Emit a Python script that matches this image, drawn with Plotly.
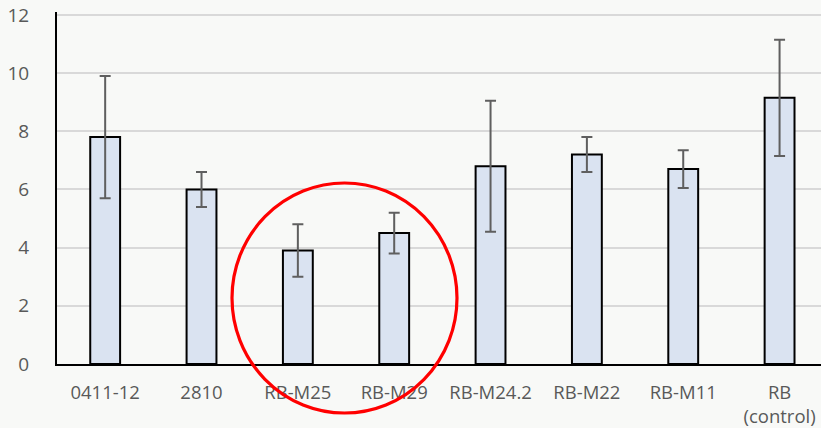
import plotly.graph_objects as go

categories = ["0411-12", "2810", "RB-M25", "RB-M29", "RB-M24.2", "RB-M22", "RB-M11", "RB<br>(control)"]
values = [7.8, 6.0, 3.9, 4.5, 6.8, 7.2, 6.7, 9.15]
errors = [2.1, 0.6, 0.9, 0.7, 2.25, 0.6, 0.65, 2.0]
y_ticks = [0, 2, 4, 6, 8, 10, 12]

BG = "#f8f9f7"

W, H = 821, 428
L, T = 57, 12
PW = W - L
PH = 364 - T
B = H - T - PH

fig = go.Figure()
fig.add_trace(go.Bar(
    x=list(range(len(categories))),
    y=values,
    width=0.31,
    marker=dict(color="#dae3f1", line=dict(color="#000000", width=2)),
    error_y=dict(type="data", array=errors, visible=True, color="#5f5f5f", thickness=2, width=5.5),
))

# highlight ellipse (paper coordinates)
fig.add_shape(type="circle", xref="paper", yref="paper",
              x0=(232 - L) / PW, x1=(457 - L) / PW,
              y0=(364 - 413) / PH, y1=(364 - 183) / PH,
              line=dict(color="#ff0000", width=3.2), layer="above")

fig.update_layout(
    width=W, height=H,
    margin=dict(l=L, r=0, t=T, b=B),
    paper_bgcolor=BG, plot_bgcolor=BG,
    showlegend=False,
    font=dict(family="Open Sans", color="#595959"),
    xaxis=dict(
        tickmode="array", tickvals=list(range(len(categories))), ticktext=categories,
        range=[-0.5, 7.43], showgrid=False, zeroline=False, automargin=False,
        showline=True, linecolor="#000000", linewidth=2,
        ticks="", tickfont=dict(size=18.5, color="#595959"), ticklabelstandoff=11,
    ),
    yaxis=dict(
        range=[0, 12.1], tickvals=y_ticks, showgrid=True, gridcolor="#d9d9d9", gridwidth=1.5,
        zeroline=False, showline=True, linecolor="#000000", linewidth=2, automargin=False,
        ticks="", tickfont=dict(size=19, color="#595959"), ticklabelstandoff=22,
    ),
)

fig.write_html(
    "out.html",
    config={"displayModeBar": False},
    post_script="document.body.style.margin='0';document.body.style.overflow='hidden';"
                "document.body.style.background='" + BG + "';",
)
